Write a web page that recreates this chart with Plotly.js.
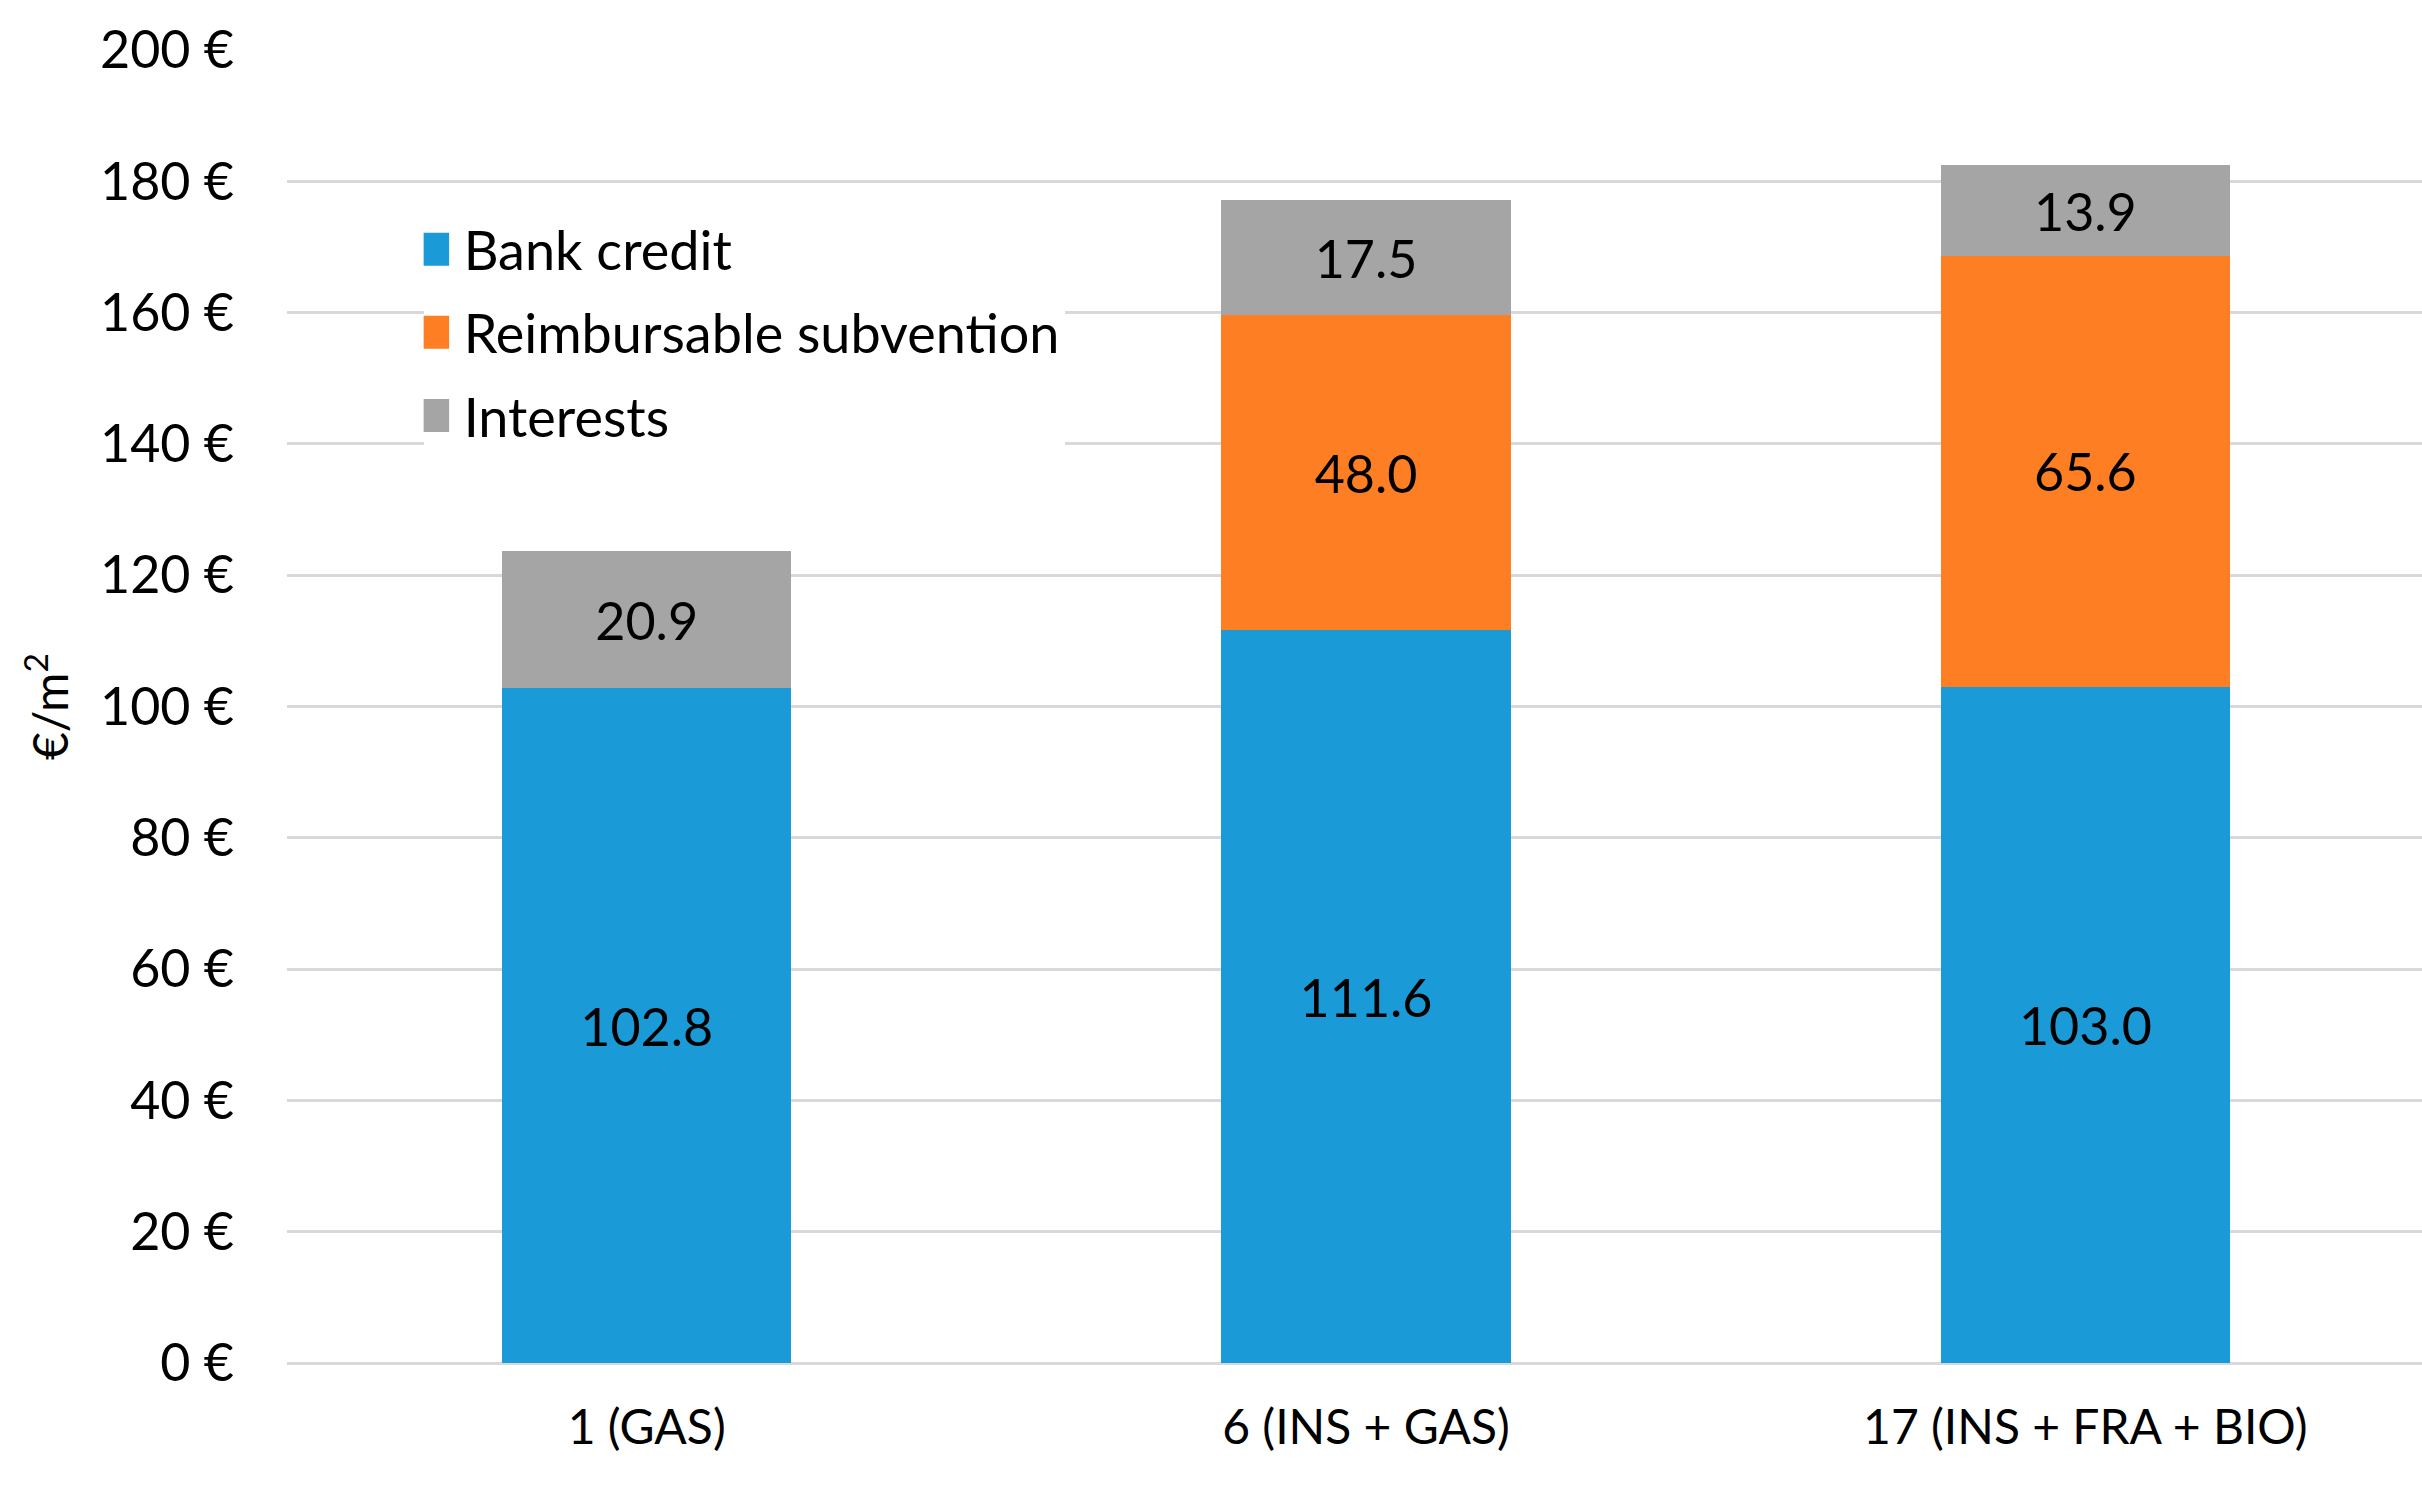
<!DOCTYPE html>
<html>
<head>
<meta charset="utf-8">
<script src="https://cdn.plot.ly/plotly-3.0.1.min.js"></script>
<style>
  html, body { margin: 0; padding: 0; background: #fff; }
  #chart { width: 2422px; height: 1490px; }
</style>
</head>
<body>
<div id="chart"></div>
<script>
// values, in €/m²
var scenarios = ['1 (GAS)', '6 (INS + GAS)', '17 (INS + FRA + BIO)'];
var bankCredit = [102.8, 111.6, 103.0];
var subvention = [null, 48.0, 65.6];
var interests = [20.9, 17.5, 13.9];
var yTicks = [0, 20, 40, 60, 80, 100, 120, 140, 160, 180, 200];
var yTickText = yTicks.map(function (v) { return v + ' €'; });

var FONT = 'Lato, "Open Sans", sans-serif';

function barTrace(name, values, color) {
    // skip the empty segments so no blank label gets drawn
    var xs = [], ys = [];
    for (var i = 0; i < values.length; i++) {
        if (values[i] != null) {
            xs.push(scenarios[i]);
            ys.push(values[i]);
        }
    }
    return {
        type: 'bar',
        name: name,
        legendgroup: name,
        x: xs,
        y: ys,
        marker: { color: color, line: { width: 0 } },
        texttemplate: '%{y:.1f}',
        textposition: 'inside',
        insidetextanchor: 'middle',
        textangle: 0,
        textfont: { family: FONT, size: 52, color: '#000' },
        hoverinfo: 'skip'
    };
}

var data = [
    barTrace('Bank credit', bankCredit, '#1a9bd7'),
    barTrace('Reimbursable subvention', subvention, '#fd7e23'),
    barTrace('Interests', interests, '#a5a5a5')
];

var layout = {
    width: 2422,
    height: 1490,
    margin: { l: 287, r: 0, t: 50, b: 127 },
    paper_bgcolor: '#fff',
    plot_bgcolor: '#fff',
    barmode: 'stack',
    bargap: 0.598,
    font: { family: FONT, size: 48, color: '#000' },
    showlegend: true,
    legend: {
        x: 0.064,
        y: 0.88,
        xanchor: 'left',
        yanchor: 'top',
        bgcolor: '#fff',
        traceorder: 'grouped',
        tracegroupgap: 10,
        font: { family: FONT, size: 54, color: '#000' }
    },
    xaxis: {
        type: 'category',
        categoryarray: scenarios,
        range: [-0.5, 2.468],
        showgrid: false,
        zeroline: false,
        showline: false,
        ticks: '',
        ticklabelstandoff: 32,
        tickfont: { family: FONT, size: 48, color: '#000' }
    },
    yaxis: {
        range: [0, 200],
        tickvals: yTicks,
        ticktext: yTickText,
        showgrid: true,
        gridcolor: '#d9d9d9',
        gridwidth: 3,
        zeroline: true,
        zerolinecolor: '#d9d9d9',
        zerolinewidth: 3,
        showline: false,
        ticks: '',
        ticklabelstandoff: 52,
        tickfont: { family: FONT, size: 52, color: '#000' },
        title: {
            text: '€/m<sup>2</sup>',
            standoff: 16,
            font: { family: FONT, size: 48, color: '#000' }
        }
    }
};

Plotly.newPlot('chart', data, layout, { staticPlot: true }).then(function () {
    // bar legend swatches are tiny by default, redraw them at the reference size
    // and nudge them left so there is a gap before the text
    document.querySelectorAll('.legendpoints path').forEach(function (p) {
        p.setAttribute('d', 'M5.5,16.5H-27.5V-16.5H5.5Z');
    });
});
</script>
</body>
</html>
